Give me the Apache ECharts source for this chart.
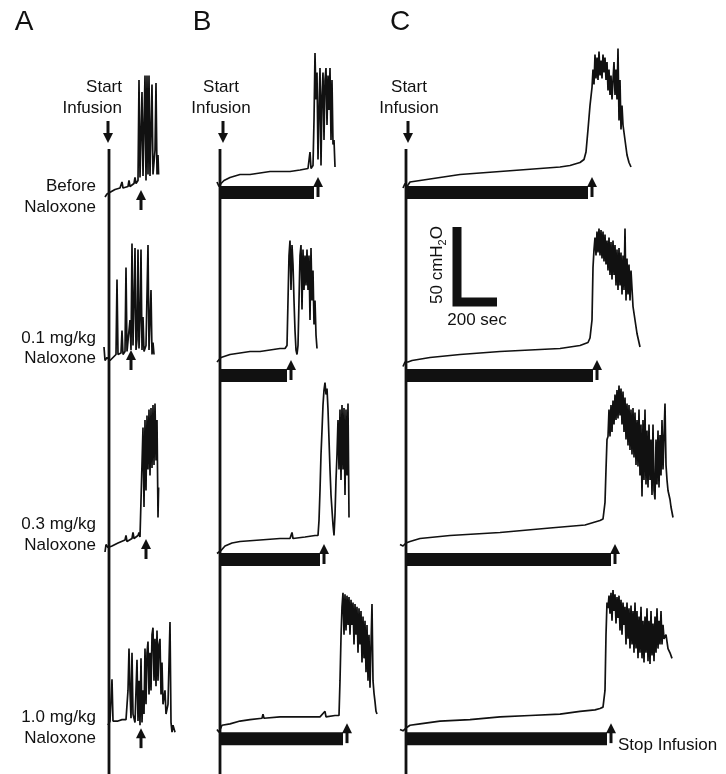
<!DOCTYPE html>
<html>
<head>
<meta charset="utf-8">
<script src="https://cdn.jsdelivr.net/npm/echarts@6/dist/echarts.min.js"></script>
<style>
  html, body { margin: 0; padding: 0; background: #fff; }
  #chart { width: 726px; height: 774px; }
</style>
</head>
<body>
<div id="chart"></div>
<script>
// bladder pressure traces, [time from start of infusion (s), pressure (cmH2O)]
var traceA1 = [[-20,2],[-10,4],[0,5],[30,7],[55,8],[65,12],[70,8],[95,9],[100,13],[105,9],[125,11],[130,15],[135,11],[145,13],[150,80],[155,15],[165,72],[170,16],[180,83],[185,13],[190,83],[195,17],[200,83],[205,16],[215,77],[220,17],[230,33],[235,78],[240,17],[245,30],[248,17]];
var traceA2 = [[-25,24],[-20,15],[-10,17],[5,15],[20,17],[35,19],[40,69],[45,19],[60,20],[65,35],[70,19],[80,21],[85,77],[90,21],[100,22],[105,42],[110,22],[115,93],[120,25],[125,54],[130,90],[135,22],[140,29],[145,89],[150,23],[155,42],[160,89],[165,22],[170,44],[175,21],[185,25],[195,92],[200,22],[210,62],[215,19],[220,27],[225,19]];
var traceA3 = [[-20,10],[-15,15],[-5,13],[15,14],[45,16],[80,18],[85,21],[90,17],[115,19],[120,23],[125,19],[145,21],[150,23],[155,20],[165,21],[170,93],[175,40],[180,98],[185,51],[190,101],[195,65],[200,105],[205,61],[210,106],[215,66],[220,108],[225,68],[230,109],[235,71],[240,98],[245,33],[248,53]];
var traceA4 = [[-5,15],[5,18],[10,17],[15,48],[20,18],[45,18],[65,19],[85,19],[90,18],[95,40],[100,70],[105,40],[110,20],[115,67],[120,23],[130,17],[135,40],[140,62],[145,18],[150,47],[155,15],[160,63],[165,17],[170,40],[175,23],[180,70],[185,30],[190,67],[195,75],[200,37],[205,67],[210,40],[215,80],[220,85],[225,47],[230,77],[235,43],[240,83],[245,47],[250,73],[255,77],[260,37],[265,60],[270,30],[280,40],[285,23],[295,30],[305,89],[310,17],[315,10],[320,15],[330,10]];

var traceB1 = [[-15,12],[-5,9],[5,11],[20,13],[50,15],[100,17],[150,17],[200,18],[250,19],[300,19],[350,19],[400,20],[440,21],[450,32],[455,21],[465,23],[470,53],[475,98],[480,67],[485,85],[490,27],[495,60],[500,88],[505,23],[510,70],[515,85],[520,40],[525,80],[530,88],[535,50],[540,83],[545,60],[550,88],[555,40],[560,80],[565,37],[570,40],[575,22]];
var traceB2 = [[-15,14],[-5,15],[5,17],[50,19],[100,20],[150,21],[200,21],[250,22],[300,23],[325,23],[335,25],[340,55],[345,85],[350,95],[355,62],[360,92],[365,79],[370,55],[375,35],[380,22],[385,19],[390,25],[395,55],[400,85],[405,92],[410,49],[415,89],[420,62],[425,85],[430,65],[435,89],[440,62],[445,85],[450,42],[455,90],[460,55],[465,75],[470,39],[475,55],[480,32],[485,23]];
var traceB3 = [[-15,9],[-5,8],[5,11],[25,14],[60,16],[100,17],[200,18],[300,19],[350,19],[360,23],[365,19],[425,20],[475,21],[490,21],[495,31],[500,51],[505,75],[510,91],[515,108],[520,118],[525,123],[530,115],[535,119],[540,105],[545,85],[550,65],[555,48],[560,38],[565,28],[570,21],[575,35],[580,58],[585,75],[590,98],[595,65],[600,105],[605,58],[610,108],[615,65],[620,106],[625,48],[630,105],[635,61],[640,109],[645,33]];
var traceB4 = [[-15,12],[-5,10],[10,15],[50,16],[100,18],[150,19],[210,20],[215,23],[220,20],[300,21],[400,21],[500,21],[525,25],[530,21],[575,22],[595,22],[600,47],[605,78],[610,100],[615,110],[620,80],[625,109],[630,83],[635,108],[640,87],[645,107],[650,80],[655,105],[660,87],[665,103],[670,73],[675,102],[680,80],[685,100],[690,67],[695,99],[700,73],[705,97],[710,60],[715,93],[720,63],[725,90],[730,53],[735,87],[740,47],[745,80],[750,42],[755,73],[760,102],[765,47],[770,38],[775,32],[780,25],[785,23]];

var traceC1 = [[-15,8],[-5,11],[5,9],[20,12],[70,13],[170,15],[270,17],[370,18],[470,19],[570,20],[670,21],[770,22],[820,23],[870,25],[890,27],[900,32],[910,47],[920,63],[930,75],[935,87],[940,77],[945,97],[950,81],[955,95],[960,80],[965,99],[970,83],[975,93],[980,81],[985,97],[990,85],[995,95],[1000,80],[1005,92],[1010,73],[1015,87],[1020,70],[1025,83],[1030,67],[1035,80],[1040,92],[1045,70],[1050,87],[1055,67],[1060,101],[1065,53],[1070,80],[1075,47],[1080,63],[1085,50],[1095,40],[1105,30],[1115,25],[1125,22]];
var traceC2 = [[-15,11],[-5,14],[10,14],[30,15],[120,17],[270,19],[470,21],[620,22],[770,23],[870,25],[910,27],[920,30],[930,42],[935,77],[940,89],[945,97],[950,85],[955,101],[960,87],[965,103],[970,85],[975,102],[980,83],[985,101],[990,81],[995,99],[1000,79],[1005,95],[1010,75],[1015,97],[1020,72],[1025,94],[1030,69],[1035,95],[1040,72],[1045,92],[1050,65],[1055,89],[1060,62],[1065,90],[1070,65],[1075,87],[1080,59],[1085,85],[1090,62],[1095,103],[1100,55],[1105,83],[1110,59],[1115,79],[1120,55],[1125,75],[1135,51],[1145,42],[1155,33],[1165,27],[1170,24]];
var traceC3 = [[-30,15],[-15,14],[0,16],[20,17],[70,19],[220,21],[470,23],[720,26],[895,28],[970,31],[985,32],[995,43],[1000,65],[1005,85],[1010,87],[1015,105],[1020,87],[1025,108],[1030,90],[1035,111],[1040,95],[1045,115],[1050,98],[1055,118],[1060,99],[1065,121],[1070,101],[1075,119],[1080,95],[1085,117],[1090,90],[1095,113],[1100,85],[1105,109],[1110,81],[1115,108],[1120,78],[1125,105],[1130,75],[1135,106],[1140,73],[1145,103],[1150,68],[1155,98],[1160,67],[1165,105],[1170,61],[1175,95],[1180,47],[1185,98],[1190,58],[1195,105],[1200,55],[1205,91],[1210,53],[1215,95],[1220,58],[1225,85],[1230,48],[1235,95],[1240,51],[1245,45],[1250,85],[1255,55],[1260,91],[1265,53],[1270,88],[1275,61],[1280,98],[1285,65],[1295,109],[1300,68],[1305,58],[1310,51],[1320,45],[1325,40],[1335,33]];
var traceC4 = [[-30,12],[-15,11],[0,13],[20,15],[70,16],[170,18],[320,19],[470,21],[620,22],[770,23],[870,25],[945,26],[970,27],[985,28],[995,40],[1000,80],[1005,103],[1010,99],[1015,108],[1020,95],[1025,110],[1030,90],[1035,112],[1040,97],[1045,109],[1050,88],[1055,107],[1060,92],[1065,108],[1070,83],[1075,105],[1080,80],[1085,103],[1090,87],[1095,100],[1100,73],[1105,103],[1110,77],[1115,99],[1120,70],[1125,101],[1130,73],[1135,97],[1140,67],[1145,103],[1150,70],[1155,97],[1160,63],[1165,93],[1170,67],[1175,100],[1180,63],[1185,90],[1190,60],[1195,93],[1200,67],[1205,99],[1210,61],[1215,90],[1220,59],[1225,97],[1230,65],[1235,88],[1240,61],[1245,93],[1250,67],[1255,99],[1260,70],[1265,90],[1270,73],[1275,97],[1280,73],[1285,87],[1290,77],[1300,80],[1310,70],[1320,67],[1330,63]];

// stop of infusion (s), one per row
var stopA = [160, 110, 185, 160];
var stopB = [490, 355, 520, 635];
var stopC = [930, 955, 1045, 1025];

var panelNames = ['A', 'B', 'C'];
var rowLabels = [['Before', 'Naloxone'], ['0.1 mg/kg', 'Naloxone'], ['0.3 mg/kg', 'Naloxone'], ['1.0 mg/kg', 'Naloxone']];
var scaleSec = 200, scaleCm = 50;

// layout
var colX = [109, 220, 406];          // pixel of t = 0 in each column
var rowZero = [200, 383, 567, 760];  // pixel of 0 cmH2O in each row
var PX_PER_SEC = 0.2, PX_PER_CM = 1.5;
var T_MIN = -50, P_MIN = -20, P_MAX = 130, GRID_W = 310;
var arrowDropA = [-10, -33, -28, -18];
var FONT = '"Liberation Sans", Arial, Helvetica, sans-serif';
var INK = '#111';

var traces = [[traceA1, traceA2, traceA3, traceA4], [traceB1, traceB2, traceB3, traceB4], [traceC1, traceC2, traceC3, traceC4]];
var stops = [stopA, stopB, stopC];

// up arrow, tip at (x, tip)
function upArrow(x, tip) {
  return [
    { type: 'polygon', shape: { points: [[x, tip], [x - 5, tip + 10], [x + 5, tip + 10]] }, style: { fill: INK } },
    { type: 'rect', shape: { x: x - 1.5, y: tip + 9, width: 3, height: 11 }, style: { fill: INK } }
  ];
}

function stopMarker(withBar, drop) {
  return function (params, api) {
    var o = api.coord([0, 0]);
    var e = api.coord([api.value(0), 0]);
    var kids = [];
    if (withBar) {
      kids.push({ type: 'rect', shape: { x: o[0], y: o[1] - 14, width: e[0] - 4 - o[0], height: 13 }, style: { fill: INK } });
    }
    kids = kids.concat(upArrow(e[0], o[1] + drop));
    return { type: 'group', children: kids };
  };
}

var grids = [], xAxes = [], yAxes = [], series = [];
for (var c = 0; c < 3; c++) {
  for (var r = 0; r < 4; r++) {
    var i = c * 4 + r;
    grids.push({
      left: colX[c] + T_MIN * PX_PER_SEC,
      top: rowZero[r] - P_MAX * PX_PER_CM,
      width: GRID_W,
      height: (P_MAX - P_MIN) * PX_PER_CM
    });
    xAxes.push({ type: 'value', gridIndex: i, min: T_MIN, max: T_MIN + GRID_W / PX_PER_SEC, show: false });
    yAxes.push({ type: 'value', gridIndex: i, min: P_MIN, max: P_MAX, show: false });
    series.push({
      type: 'line', xAxisIndex: i, yAxisIndex: i, data: traces[c][r],
      symbol: 'none', silent: true,
      lineStyle: { color: INK, width: 1.7 }
    });
    series.push({
      type: 'custom', xAxisIndex: i, yAxisIndex: i, silent: true,
      data: [[stops[c][r], 0]],
      renderItem: stopMarker(c > 0, c === 0 ? arrowDropA[r] : -23)
    });
  }
}

// scale bar, drawn in the grid of column C, row 2
var scaleT = 255, scaleP = 54;
series.push({
  type: 'line', xAxisIndex: 9, yAxisIndex: 9, silent: true, symbol: 'none',
  data: [[scaleT, scaleP + scaleCm], [scaleT, scaleP], [scaleT + scaleSec, scaleP]],
  lineStyle: { color: INK, width: 9, cap: 'butt', join: 'miter' }
});

function txt(x, y, s, size, align) {
  return {
    type: 'text', x: x, y: y, silent: true,
    style: { text: s, fontSize: size, fontFamily: FONT, fill: INK, align: align, textAlign: align, verticalAlign: 'middle', textVerticalAlign: 'middle' }
  };
}

var graphics = [];
var letterX = [24, 202, 400];
var startX = [122, 221, 409];
var startAlign = ['right', 'center', 'center'];
var arrowX = [108, 223, 408];
for (var k = 0; k < 3; k++) {
  graphics.push(txt(letterX[k], 22, panelNames[k], 28, 'center'));
  graphics.push(txt(startX[k], 87, 'Start', 17, startAlign[k]));
  graphics.push(txt(startX[k], 108, 'Infusion', 17, startAlign[k]));
  graphics.push({ type: 'rect', silent: true, shape: { x: arrowX[k] - 1.5, y: 121, width: 3, height: 13 }, style: { fill: INK } });
  graphics.push({ type: 'polygon', silent: true, shape: { points: [[arrowX[k] - 5, 133], [arrowX[k] + 5, 133], [arrowX[k], 143]] }, style: { fill: INK } });
  graphics.push({ type: 'rect', silent: true, shape: { x: colX[k] - 1.4, y: 149, width: 2.8, height: 625 }, style: { fill: INK } });
}
var labelY = [[186, 207], [338, 358], [524, 545], [717, 738]];
for (var m = 0; m < 4; m++) {
  graphics.push(txt(96, labelY[m][0], rowLabels[m][0], 17, 'right'));
  graphics.push(txt(96, labelY[m][1], rowLabels[m][1], 17, 'right'));
}
graphics.push(txt(477, 320, scaleSec + ' sec', 17, 'center'));
graphics.push({
  type: 'text', x: 437, y: 265, rotation: Math.PI / 2, silent: true,
  style: {
    text: '{a|' + scaleCm + ' cmH}{s|2}{a|O}',
    fill: INK, align: 'center', textAlign: 'center', verticalAlign: 'middle', textVerticalAlign: 'middle',
    rich: {
      a: { fontSize: 17, fontFamily: FONT, fill: INK, lineHeight: 22 },
      s: { fontSize: 11, fontFamily: FONT, fill: INK, verticalAlign: 'bottom', lineHeight: 22 }
    }
  }
});
graphics.push(txt(618, 745, 'Stop Infusion', 17, 'left'));

var chart = echarts.init(document.getElementById('chart'));
chart.setOption({
  backgroundColor: '#fff',
  animation: false,
  grid: grids,
  xAxis: xAxes,
  yAxis: yAxes,
  series: series,
  graphic: { elements: graphics }
});
</script>
</body>
</html>
